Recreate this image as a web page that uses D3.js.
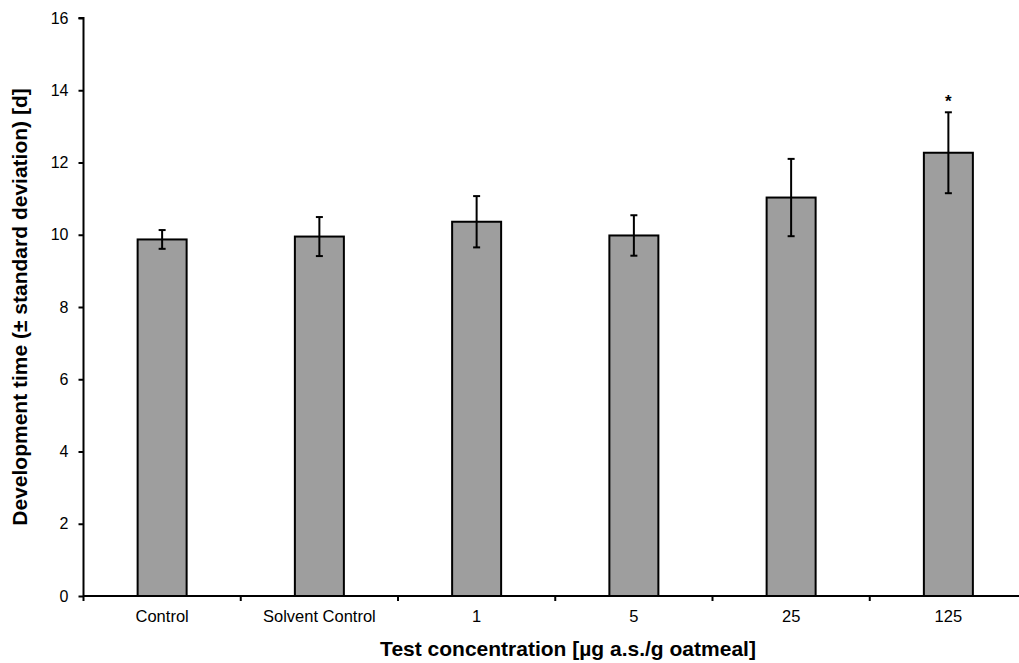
<!DOCTYPE html>
<html>
<head>
<meta charset="utf-8">
<script src="https://cdn.jsdelivr.net/npm/d3@7"></script>
<style>
  body { margin: 0; background: #fff; }
  text { font-family: "Liberation Sans", Arial, sans-serif; }
</style>
</head>
<body>
<svg id="chart" width="1019" height="663"></svg>
<script>
const categories = ["Control", "Solvent Control", "1", "5", "25", "125"];
const means = [9.87, 9.95, 10.36, 9.98, 11.03, 12.27];
const sds = [0.26, 0.54, 0.71, 0.56, 1.07, 1.12];
const significant = [false, false, false, false, false, true];
const yTicks = [0, 2, 4, 6, 8, 10, 12, 14, 16];

const svg = d3.select("#chart");
const mLeft = 83.5, mRight = 1027, mTop = 18, mBottom = 596;

const x = d3.scaleBand().domain(categories).range([mLeft, mRight]).paddingInner(0).paddingOuter(0);
const y = d3.scaleLinear().domain([0, 16]).range([mBottom, mTop]);
const barW = 49;

// bars
svg.selectAll("rect.bar").data(categories).enter().append("rect")
  .attr("x", (d) => x(d) + x.bandwidth() / 2 - barW / 2)
  .attr("y", (d, i) => y(means[i]))
  .attr("width", barW)
  .attr("height", (d, i) => y(0) - y(means[i]))
  .attr("fill", "#9e9e9e")
  .attr("stroke", "#000")
  .attr("stroke-width", 2);

// error bars
const eg = svg.append("g").attr("stroke", "#000").attr("stroke-width", 2);
categories.forEach((c, i) => {
  const cx = x(c) + x.bandwidth() / 2;
  const y1 = y(means[i] + sds[i]), y2 = y(means[i] - sds[i]);
  eg.append("line").attr("x1", cx).attr("x2", cx).attr("y1", y1).attr("y2", y2);
  eg.append("line").attr("x1", cx - 3.5).attr("x2", cx + 3.5).attr("y1", y1).attr("y2", y1);
  eg.append("line").attr("x1", cx - 3.5).attr("x2", cx + 3.5).attr("y1", y2).attr("y2", y2);
  if (significant[i]) {
    svg.append("text").attr("x", cx).attr("y", y1 - 5).attr("text-anchor", "middle")
      .attr("font-size", 17).attr("font-weight", "bold").text("*");
  }
});

// y axis
const yAxis = svg.append("g").attr("transform", `translate(${mLeft},0)`)
  .call(d3.axisLeft(y).tickValues(yTicks).tickSize(5).tickPadding(10).tickFormat(d3.format("d")));
yAxis.select(".domain").attr("stroke-width", 2).attr("d", `M-5,${mTop}H0V${mBottom}`);
yAxis.selectAll(".tick line").attr("stroke-width", 2);
yAxis.selectAll("text").attr("font-size", 16).attr("fill", "#000")
  .style("font-family", "'Liberation Sans', Arial, sans-serif");

// x axis
const xAxis = svg.append("g").attr("transform", `translate(0,${mBottom})`)
  .call(d3.axisBottom(x).tickSize(0).tickPadding(14));
xAxis.select(".domain").attr("stroke-width", 2).attr("d", `M${mLeft},0H${mRight}`);
xAxis.selectAll("text").attr("font-size", 16.5).attr("fill", "#000")
  .style("font-family", "'Liberation Sans', Arial, sans-serif");
// boundary ticks between bands
const bounds = categories.map((c) => x(c)).concat([mRight]);
xAxis.selectAll("line.bt").data(bounds).enter().append("line")
  .attr("class", "bt").attr("x1", (d) => d).attr("x2", (d) => d)
  .attr("y1", 0).attr("y2", 5).attr("stroke", "#000").attr("stroke-width", 2);

// axis titles
svg.append("text").attr("x", 568).attr("y", 656).attr("text-anchor", "middle")
  .attr("font-size", 21).attr("font-weight", "bold").text("Test concentration [µg a.s./g oatmeal]");
svg.append("text").attr("transform", "translate(27,307) rotate(-90)").attr("text-anchor", "middle")
  .attr("font-size", 21).attr("font-weight", "bold").text("Development time (± standard deviation) [d]");
</script>
</body>
</html>
